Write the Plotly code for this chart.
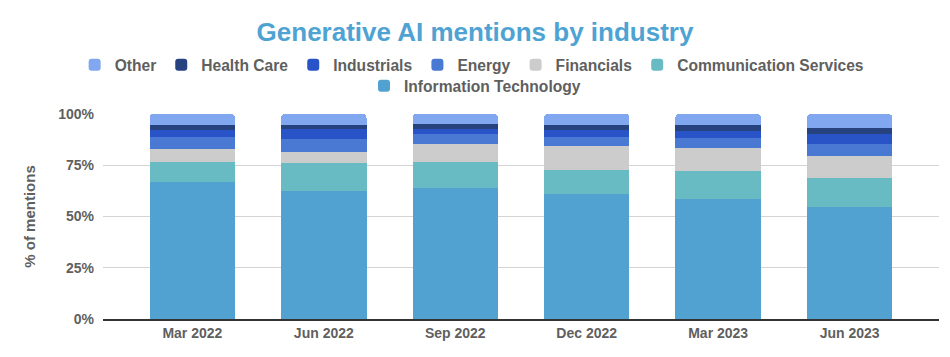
import plotly.graph_objects as go

categories = ["Mar 2022", "Jun 2022", "Sep 2022", "Dec 2022", "Mar 2023", "Jun 2023"]

information_technology = [67.0, 62.4, 63.8, 61.1, 58.6, 54.6]
communication_services = [9.6, 13.6, 12.8, 11.6, 13.6, 14.3]
financials = [6.5, 5.6, 8.9, 11.5, 11.4, 10.8]
energy = [5.7, 6.1, 4.6, 4.6, 4.5, 5.8]
industrials = [3.2, 5.0, 2.7, 3.2, 3.8, 4.6]
health_care = [2.6, 1.9, 2.5, 2.5, 2.6, 3.2]
other = [5.4, 5.4, 4.7, 5.5, 5.5, 6.7]

y_ticks = [0, 25, 50, 75, 100]
y_tick_labels = ["0%", "25%", "50%", "75%", "100%"]

series = [
    ("Information Technology", information_technology, "#51a2d0", "legend2"),
    ("Communication Services", communication_services, "#68bbc2", "legend"),
    ("Financials", financials, "#cccccc", "legend"),
    ("Energy", energy, "#4a79d3", "legend"),
    ("Industrials", industrials, "#2954c8", "legend"),
    ("Health Care", health_care, "#264380", "legend"),
    ("Other", other, "#80a7ef", "legend"),
]

FONT = "Liberation Sans, Arial, sans-serif"
GRAY = "#5f5f5f"

fig = go.Figure()
for name, vals, color, leg in series:
    fig.add_trace(go.Bar(
        x=list(range(len(categories))), y=vals, name=name,
        marker=dict(color=color, line=dict(width=0)),
        width=0.65, legend=leg,
    ))

fig.update_layout(
    width=950, height=357,
    barmode="stack",
    barcornerradius=4,
    paper_bgcolor="white", plot_bgcolor="white",
    margin=dict(l=103, r=11, t=114, b=38, autoexpand=False),
    font=dict(family=FONT, color=GRAY, size=14),
    title=dict(
        text="<b>Generative AI mentions by industry</b>",
        x=0.5, xanchor="center", y=1 - 32 / 357, yanchor="middle",
        xref="container", yref="container",
        font=dict(family=FONT, size=26, color="#4fa3d3"),
    ),
    legend=dict(
        orientation="h", traceorder="reversed",
        xref="container", yref="container",
        x=0.497, xanchor="center", y=1 - 65 / 357, yanchor="middle",
        font=dict(family=FONT, size=15.6, color=GRAY, weight="bold"),
        itemclick=False, bgcolor="rgba(0,0,0,0)",
    ),
    legend2=dict(
        orientation="h",
        xref="container", yref="container",
        x=0.5, xanchor="center", y=1 - 86 / 357, yanchor="middle",
        font=dict(family=FONT, size=15.6, color=GRAY, weight="bold"),
        itemclick=False, bgcolor="rgba(0,0,0,0)",
    ),
    xaxis=dict(
        tickmode="array", tickvals=list(range(len(categories))), ticktext=categories,
        range=[-0.68, 5.68],
        showgrid=False, showline=True, linecolor="#333333", linewidth=1.5,
        ticks="", tickfont=dict(family=FONT, size=14, color=GRAY, weight="bold"),
        fixedrange=True,
    ),
    yaxis=dict(
        range=[0, 100], tickmode="array", tickvals=y_ticks, ticktext=y_tick_labels,
        showgrid=True, gridcolor="#d4d4d4", gridwidth=1,
        zeroline=False, showline=False,
        tickfont=dict(family=FONT, size=14, color=GRAY, weight="bold"),
        title=dict(text="% of mentions", font=dict(family=FONT, size=15, color=GRAY, weight="bold"), standoff=18),
        ticklabelstandoff=8,
        fixedrange=True,
    ),
    showlegend=True,
)

fig.write_html(
    "out.html",
    config={"displayModeBar": False},
    post_script="document.body.style.margin='0';document.body.style.overflow='hidden';",
)
